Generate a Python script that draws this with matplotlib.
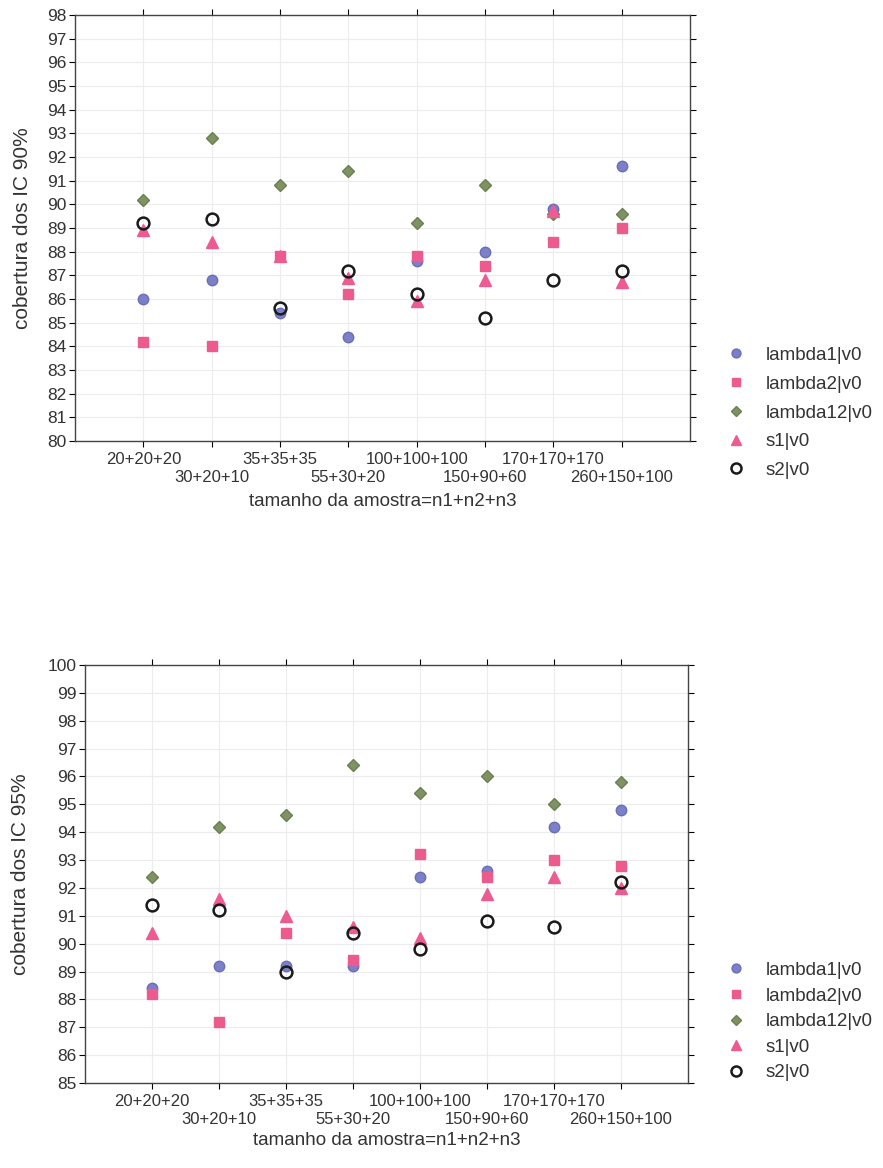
import matplotlib

matplotlib.use("Agg")
import matplotlib.pyplot as plt
import numpy as np

plt.rcParams["font.family"] = ["Liberation Sans", "DejaVu Sans"]

# tamanhos de amostra (n1+n2+n3)
AMOSTRAS = ["20+20+20", "30+20+10", "35+35+35", "55+30+20",
            "100+100+100", "150+90+60", "170+170+170", "260+150+100"]

# cobertura dos IC 90%
L1_90 = [86.0, 86.8, 85.4, 84.4, 87.6, 88.0, 89.8, 91.6]
L2_90 = [84.2, 84.0, 87.8, 86.2, 87.8, 87.4, 88.4, 89.0]
L12_90 = [90.2, 92.8, 90.8, 91.4, 89.2, 90.8, 89.6, 89.6]
S1_90 = [88.9, 88.4, 87.8, 86.9, 85.9, 86.8, 89.7, 86.7]
S2_90 = [89.2, 89.4, 85.6, 87.2, 86.2, 85.2, 86.8, 87.2]

# cobertura dos IC 95%
L1_95 = [88.4, 89.2, 89.2, 89.2, 92.4, 92.6, 94.2, 94.8]
L2_95 = [88.2, 87.2, 90.4, 89.4, 93.2, 92.4, 93.0, 92.8]
L12_95 = [92.4, 94.2, 94.6, 96.4, 95.4, 96.0, 95.0, 95.8]
S1_95 = [90.4, 91.6, 91.0, 90.6, 90.2, 91.8, 92.4, 92.0]
S2_95 = [91.4, 91.2, 89.0, 90.4, 89.8, 90.8, 90.6, 92.2]

NOMES = ["lambda1|v0", "lambda2|v0", "lambda12|v0", "s1|v0", "s2|v0"]
ESTILOS = [
    dict(marker="o", color="#7c80c8", ms=7.5, mec="#6a6eb8"),
    dict(marker="s", color="#ec5a8e", ms=7, mec="#ec5a8e"),
    dict(marker="D", color="#7f9263", ms=6, mec="#6d7f52"),
    dict(marker="^", color="#ee5a92", ms=8, mec="#ee5a92"),
    dict(marker="o", color="none", ms=8.5, mec="#1a1a1a", mew=1.8),
]

W, H = 883, 1168
TXT = "#333333"


def painel(rect, series, ylim, ylabel, ylab_x, xlab_y, leg_anchor, leg_sp, fig):
    ax = fig.add_axes(rect)
    x = np.arange(1, len(AMOSTRAS) + 1)
    for vals, nome, st in zip(series, NOMES, ESTILOS):
        ax.plot(x, vals, ls="none", label=nome, zorder=3, **st)
    ax.set_xlim(0, len(AMOSTRAS) + 1)
    ax.set_ylim(*ylim)
    ax.set_yticks(np.arange(ylim[0], ylim[1] + 1, 1))
    ax.set_xticks(x)
    ax.set_xticklabels(AMOSTRAS, fontsize=12, color=TXT)
    ax.tick_params(axis="y", labelsize=12.5, labelcolor=TXT, length=4,
                   pad=2, direction="out", right=True)
    ax.tick_params(axis="x", length=4, direction="out", top=True)
    # rótulos alternados em duas linhas
    for i, tk in enumerate(ax.xaxis.get_major_ticks()):
        tk.set_pad(3.6 if i % 2 == 0 else 17)
    ax.grid(True, color="#ececec", lw=0.8, zorder=0)
    for s in ax.spines.values():
        s.set_color("#444444")
        s.set_linewidth(1.0)
    ax.set_ylabel(ylabel, fontsize=15, color=TXT)
    ax.yaxis.set_label_coords(ylab_x, 0.5)
    ax.set_xlabel("tamanho da amostra=n1+n2+n3", fontsize=13.5, color=TXT)
    ax.xaxis.set_label_coords(0.5, xlab_y)
    leg = fig.legend(*ax.get_legend_handles_labels(), loc="upper left",
                     bbox_to_anchor=leg_anchor, frameon=False, fontsize=13.5,
                     labelspacing=leg_sp, handletextpad=0.6, markerscale=0.85)
    for t in leg.get_texts():
        t.set_color(TXT)
    return ax


fig = plt.figure(figsize=(W / 100, H / 100), dpi=100)

painel([75 / W, 1 - 441 / H, 615 / W, 426 / H],
       [L1_90, L2_90, L12_90, S1_90, S2_90], (80, 98),
       "cobertura dos IC 90%", -0.07, -0.122,
       (700 / W, 1 - 330 / H), 0.62, fig)

painel([85 / W, 1 - 1083 / H, 603 / W, 418 / H],
       [L1_95, L2_95, L12_95, S1_95, S2_95], (85, 100),
       "cobertura dos IC 95%", -0.092, -0.117,
       (700 / W, 1 - 945 / H), 0.45, fig)

fig.savefig("out.png", dpi=100)
